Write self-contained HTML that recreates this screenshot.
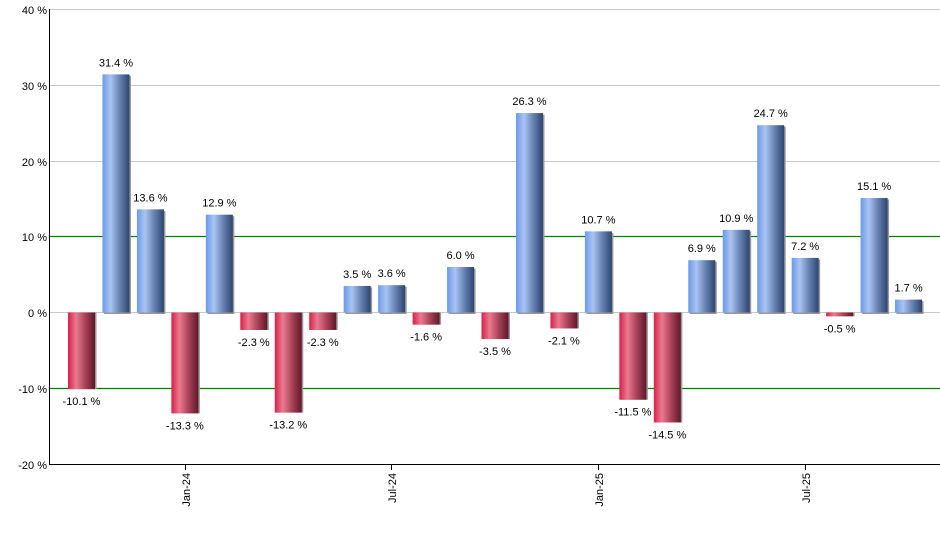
<!DOCTYPE html>
<html><head><meta charset="utf-8"><style>
html,body{margin:0;padding:0;background:#fff;}
svg{display:block;font-family:"Liberation Sans",sans-serif;}
</style></head><body>
<svg width="940" height="550" viewBox="0 0 940 550">
<defs>
<linearGradient id="b" x1="0" x2="1" y1="0" y2="0">
<stop offset="0" stop-color="#6b9aea"/><stop offset="0.3" stop-color="#a9c4f2"/><stop offset="0.65" stop-color="#6580b0"/><stop offset="1" stop-color="#2e4470"/>
</linearGradient>
<linearGradient id="r" x1="0" x2="1" y1="0" y2="0">
<stop offset="0" stop-color="#d8204a"/><stop offset="0.3" stop-color="#ea7a8e"/><stop offset="0.65" stop-color="#a84058"/><stop offset="1" stop-color="#601828"/>
</linearGradient>
</defs>
<g stroke="#c8c8c8" stroke-width="1">
<line x1="50" x2="940" y1="9.5" y2="9.5"/>
<line x1="50" x2="940" y1="85.5" y2="85.5"/>
<line x1="50" x2="940" y1="161.5" y2="161.5"/>
<line x1="50" x2="940" y1="312.5" y2="312.5"/>
</g>
<g stroke="#008000" stroke-width="1.3">
<line x1="50" x2="940" y1="236.5" y2="236.5"/>
<line x1="50" x2="940" y1="388.5" y2="388.5"/>
</g>
<g font-size="11" fill="#000" text-anchor="end">
<text x="47" y="14">40 %</text>
<text x="47" y="90">30 %</text>
<text x="47" y="166">20 %</text>
<text x="47" y="241">10 %</text>
<text x="47" y="317">0 %</text>
<text x="47" y="393">-10 %</text>
<text x="47" y="469">-20 %</text>
</g>
<g id="bars"></g>
<line x1="49.5" x2="49.5" y1="9" y2="464" stroke="#000"/>
<line x1="49" x2="940" y1="464.5" y2="464.5" stroke="#000"/>
<g stroke="#000">
<line x1="185.5" x2="185.5" y1="464" y2="470"/>
<line x1="391.5" x2="391.5" y1="464" y2="470"/>
<line x1="598.5" x2="598.5" y1="464" y2="470"/>
<line x1="805.5" x2="805.5" y1="464" y2="470"/>
</g>
<g font-size="11" fill="#000" text-anchor="end">
<text transform="translate(190,473) rotate(-90)">Jan-24</text>
<text transform="translate(396,473) rotate(-90)">Jul-24</text>
<text transform="translate(603,473) rotate(-90)">Jan-25</text>
<text transform="translate(810,473) rotate(-90)">Jul-25</text>
</g>
</svg>
<script>
var v=[-10.1,31.4,13.6,-13.3,12.9,-2.3,-13.2,-2.3,3.5,3.6,-1.6,6.0,-3.5,26.3,-2.1,10.7,-11.5,-14.5,6.9,10.9,24.7,7.2,-0.5,15.1,1.7];
var g=document.getElementById('bars'),s='',z=312.5,k=7.583;
v.forEach(function(d,i){
var x=68+i*34.46,h=Math.abs(d)*k,y=d>=0?z-h:z;
s+='<rect x="'+(x+1.5)+'" y="'+(y+(d>=0?1.5:0))+'" width="27" height="'+h+'" fill="#999"/>';
s+='<rect x="'+x+'" y="'+y+'" width="27" height="'+h+'" fill="url(#'+(d>=0?'b':'r')+')"/>';
var ty=d>=0?y-8:y+h+16;
s+='<text x="'+(x+13.5)+'" y="'+ty+'" font-size="11" text-anchor="middle">'+d.toFixed(1)+' %</text>';
});
g.innerHTML=s;
</script>
</body></html>
